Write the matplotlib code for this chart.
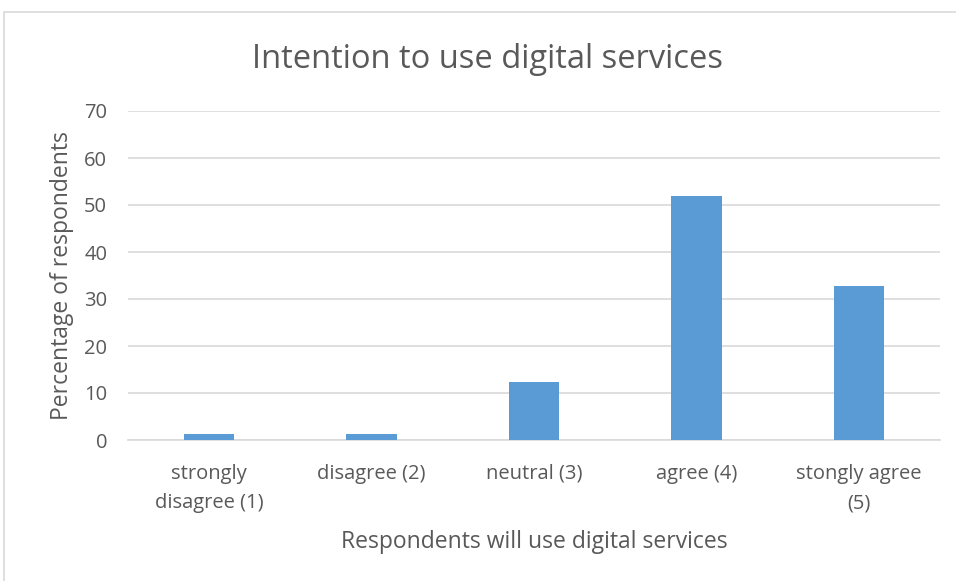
import matplotlib.pyplot as plt
from matplotlib.patches import Rectangle

# data
categories = ['strongly\ndisagree (1)', 'disagree (2)', 'neutral (3)',
              'agree (4)', 'stongly agree\n(5)']
percentages = [1.2, 1.2, 12.3, 52.0, 32.8]

plt.rcParams['font.family'] = ['Open Sans', 'DejaVu Sans']
text_grey = '#595959'
bar_blue = '#5b9bd5'

fig = plt.figure(figsize=(9.56, 5.81), dpi=100)
ax = fig.add_axes([128 / 956, 1 - 440 / 581, (940 - 128) / 956, (440 - 111) / 581])

x = range(len(categories))
ax.bar(x, percentages, width=0.31, color=bar_blue, zorder=3)

ax.set_xlim(-0.5, len(categories) - 0.5)
ax.set_ylim(0, 70)
ax.set_yticks(range(0, 71, 10))
ax.set_xticks(list(x))
ax.set_xticklabels(categories, fontsize=14.5, color=text_grey, linespacing=1.65)
ax.tick_params(axis='y', labelsize=14.5, labelcolor=text_grey, length=0, pad=15)
ax.tick_params(axis='x', length=0, pad=17)
ax.grid(axis='y', color='#d9d9d9', linewidth=1.2, zorder=0)
for s in ['top', 'right', 'left']:
    ax.spines[s].set_visible(False)
ax.spines['bottom'].set_color('#d9d9d9')
ax.spines['bottom'].set_linewidth(1.2)

ax.set_ylabel('Percentage of respondents', fontsize=16.5, color=text_grey, labelpad=7)
ax.set_xlabel('Respondents will use digital services', fontsize=16.5, color=text_grey, labelpad=12)
fig.text(488 / 956, 1 - 59 / 581, 'Intention to use digital services', fontsize=23.5,
         color=text_grey, ha='center', va='center')

# chart frame, only left and top edges are visible in the crop
fig.patches.append(Rectangle((4 / 956, -0.1), 1.2, 1 - 12 / 581 + 0.1,
                             transform=fig.transFigure, fill=False,
                             edgecolor='#d9d9d9', linewidth=1.2))

fig.savefig('out.png', dpi=100)
